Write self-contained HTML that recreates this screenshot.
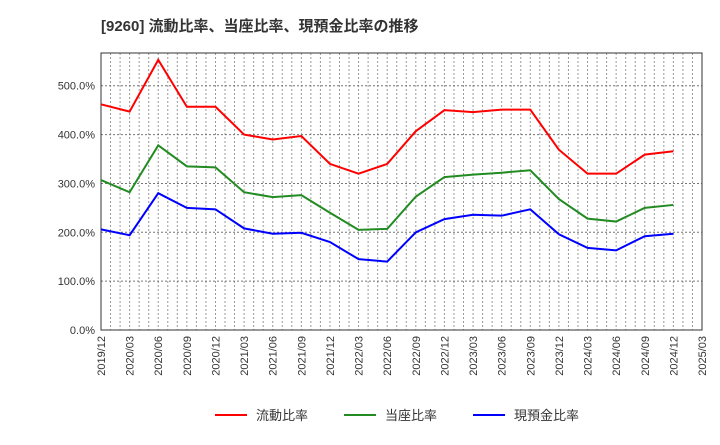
<!DOCTYPE html>
<html><head><meta charset="utf-8"><style>
body{margin:0;background:#fff;font-family:"Liberation Sans","Noto Sans CJK JP",sans-serif;}
</style></head><body>
<svg width="720" height="440" xmlns="http://www.w3.org/2000/svg" id="c">
<text x="101" y="31" font-size="15" font-weight="bold" fill="#333" font-family="Liberation Sans, Noto Sans CJK JP, sans-serif">[9260]  流動比率、当座比率、現預金比率の推移</text>
<g id="grid"></g><g id="axes"></g><g id="series"></g>
<g font-size="13" fill="#333" font-family="Liberation Sans, Noto Sans CJK JP, sans-serif">
<line x1="215" y1="415" x2="247" y2="415" stroke="#f00" stroke-width="2"/><text x="256" y="420">流動比率</text>
<line x1="344" y1="415" x2="376" y2="415" stroke="#228b22" stroke-width="2"/><text x="385" y="420">当座比率</text>
<line x1="473" y1="415" x2="505" y2="415" stroke="#00f" stroke-width="2"/><text x="514" y="420">現預金比率</text>
</g>
</svg>
<script>
const categories=["2019/12","2020/03","2020/06","2020/09","2020/12","2021/03","2021/06","2021/09","2021/12","2022/03","2022/06","2022/09","2022/12","2023/03","2023/06","2023/09","2023/12","2024/03","2024/06","2024/09","2024/12"];
const tickLabels=["2019/12","2020/03","2020/06","2020/09","2020/12","2021/03","2021/06","2021/09","2021/12","2022/03","2022/06","2022/09","2022/12","2023/03","2023/06","2023/09","2023/12","2024/03","2024/06","2024/09","2024/12","2025/03"];
const yTicks=[0,100,200,300,400,500];
const currentRatio=[462,447,553,457,457,400,390,397,340,320,340,407,450,446,451,451,369,320,320,359,366];
const quickRatio=[307,282,378,335,333,282,272,276,240,205,207,273,313,318,322,327,268,228,222,250,256];
const cashRatio=[206,194,280,250,247,208,197,199,180,145,140,200,227,236,234,247,196,168,163,192,197];
const X0=101,X1=702,Y0=330,YT=53,YMAX=567;
const xs=i=>X0+(X1-X0)*i/(tickLabels.length-1);
const ys=v=>Y0-(Y0-YT)*v/YMAX;
const NS="http://www.w3.org/2000/svg";
function mk(p,t,a){const e=document.createElementNS(NS,t);for(const k in a)e.setAttribute(k,a[k]);p.appendChild(e);return e;}
const grid=document.getElementById('grid'),axes=document.getElementById('axes'),ser=document.getElementById('series');
const nMonths=(tickLabels.length-1)*3;
for(let m=1;m<nMonths;m++){const x=X0+(X1-X0)*m/nMonths;
const l=mk(grid,'line',{x1:x,x2:x,y1:YT,y2:Y0,stroke:'#999','stroke-dasharray':'2,2','stroke-width':1});

}
yTicks.forEach(v=>{const y=ys(v);
if(v>0){const l=mk(grid,'line',{x1:X0,x2:X1,y1:y,y2:y,stroke:'#777','stroke-dasharray':'2,2','stroke-width':1});

}
const t=mk(axes,'text',{x:X0-6,y:y+4,'text-anchor':'end','font-size':11,fill:'#333'});t.textContent=v.toFixed(1)+'%';

});
tickLabels.forEach((s,i)=>{const x=xs(i);
const t=mk(axes,'text',{x:0,y:0,'text-anchor':'end','font-size':11,fill:'#333',transform:`translate(${x+4},${Y0+6}) rotate(-90)`});t.textContent=s;

});
const fr=mk(axes,'rect',{x:X0,y:YT,width:X1-X0,height:Y0-YT,fill:'none',stroke:'#333','stroke-width':1});


[[currentRatio,'#f00','current-ratio-line'],[quickRatio,'#228b22','quick-ratio-line'],[cashRatio,'#00f','cash-ratio-line']].forEach(([d,c,n])=>{
const p=mk(ser,'polyline',{points:d.map((v,i)=>xs(i)+','+ys(v)).join(' '),fill:'none',stroke:c,'stroke-width':2});

});
</script>
</body></html>
